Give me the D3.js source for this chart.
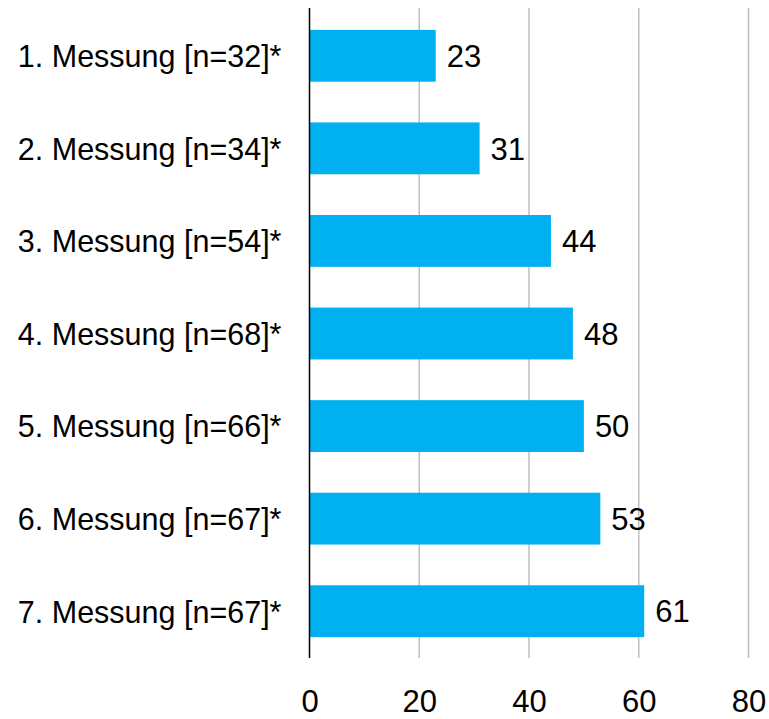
<!doctype html>
<html lang="de">
<head>
  <meta charset="utf-8">
  <title>Messungen</title>
  <script src="https://cdn.jsdelivr.net/npm/d3@7"></script>
  <style>
    body{margin:0;background:#fff}
    text{font-family:"Liberation Sans",Arial,sans-serif;fill:#000}
  </style>
</head>
<body>
<div id="chart"></div>
<script>
var categories = ["1. Messung [n=32]*", "2. Messung [n=34]*", "3. Messung [n=54]*", "4. Messung [n=68]*",
                  "5. Messung [n=66]*", "6. Messung [n=67]*", "7. Messung [n=67]*"];
var values = [23, 31, 44, 48, 50, 53, 61];
var xTicks = [0, 20, 40, 60, 80];

var W = 769, H = 719;
var svg = d3.select("#chart").append("svg").attr("width", W).attr("height", H);

var x = d3.scaleLinear().domain([0, 80]).range([309.5, 748.5]),
    y = d3.scaleBand().domain(categories).range([9.5, 657.5]).paddingInner(0.44).paddingOuter(0.22);

// gridlines
svg.append("g").selectAll("line")
  .data(xTicks.slice(1)).enter().append("line")
  .attr("x1", d => x(d)).attr("x2", d => x(d))
  .attr("y1", 8).attr("y2", 658)
  .attr("stroke", "#bfbfbf").attr("stroke-width", 1.5);

// bars
svg.append("g").selectAll("rect")
  .data(values).enter().append("rect")
  .attr("x", x(0))
  .attr("y", (d, i) => y(categories[i]))
  .attr("width", d => x(d) - x(0))
  .attr("height", y.bandwidth())
  .attr("fill", "#00b0f0");

// value labels
svg.append("g").selectAll("text")
  .data(values).enter().append("text")
  .attr("x", d => x(d) + 11)
  .attr("y", (d, i) => y(categories[i]) + y.bandwidth() / 2)
  .attr("dy", "0.36em")
  .style("font-size", "31px")
  .text(d => d);

// y axis
var yAxis = svg.append("g").attr("transform", "translate(" + x(0) + ",0)")
  .call(d3.axisLeft(y).tickSize(0).tickPadding(28));
yAxis.select(".domain").remove();
yAxis.selectAll("text").style("font-size", "30.5px").attr("dy", "0.37em");
svg.append("line")
  .attr("x1", x(0)).attr("x2", x(0)).attr("y1", 8).attr("y2", 658)
  .attr("stroke", "#000").attr("stroke-width", 1.5);

// x axis labels
var xAxis = svg.append("g").attr("transform", "translate(0,690)")
  .call(d3.axisBottom(x).tickValues(xTicks).tickSize(0).tickPadding(0));
xAxis.select(".domain").remove();
xAxis.selectAll("text").style("font-size", "31px").attr("dy", "0.71em");
</script>
</body>
</html>
